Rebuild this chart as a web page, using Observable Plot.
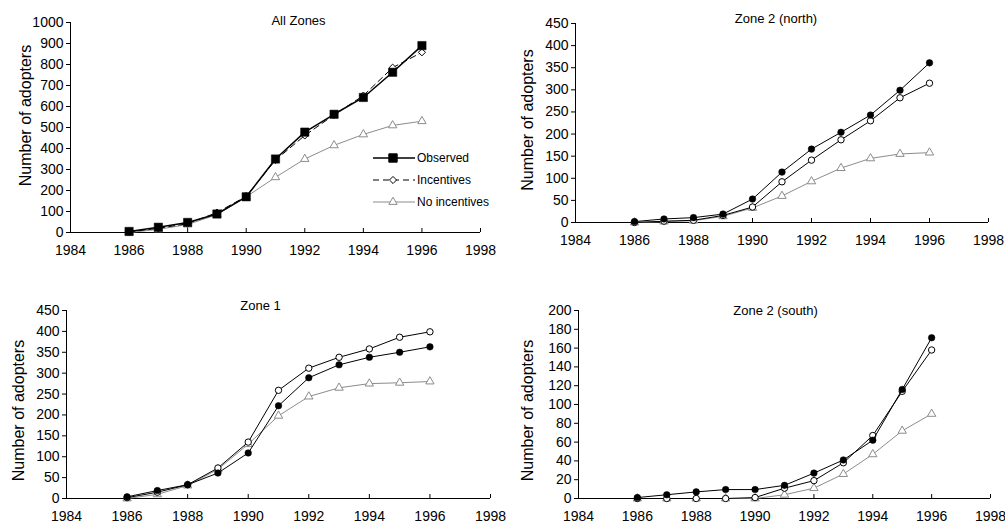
<!DOCTYPE html>
<html><head><meta charset="utf-8">
<script src="https://cdn.jsdelivr.net/npm/d3@7"></script>
<script src="https://cdn.jsdelivr.net/npm/@observablehq/plot@0.6"></script>
<style>
body{margin:0;background:#fff;}
#wrap{position:relative;width:1005px;height:524px;font-family:"Liberation Sans",Arial,sans-serif;overflow:hidden;}
.panel{position:absolute;}
.panel svg{overflow:visible;}
.legend{position:absolute;left:368px;top:147px;font-size:12px;color:#000;}
.legend div{height:22px;display:flex;align-items:center;}
.legend svg{margin-right:1px;}
</style></head><body><div id="wrap"></div>
<script>
const years = [1986,1987,1988,1989,1990,1991,1992,1993,1994,1995,1996];
const xTicks = [1984,1986,1988,1990,1992,1994,1996,1998];
const seriesNames = ["Observed","Incentives","No incentives"];
const yLabel = "Number of adopters";

const allObserved   = [5,25,48,88,170,350,478,563,643,763,890];
const allIncentives = [3,20,42,95,172,345,462,560,652,785,858];
const allNoIncent   = [0,15,38,85,170,263,350,415,467,510,530];

const northObserved   = [2,8,11,19,53,114,166,204,243,299,361];
const northIncentives = [0,3,5,16,35,92,141,187,230,282,315];
const northNoIncent   = [0,2,4,14,33,60,93,123,145,155,158];

const zone1Observed   = [4,19,33,61,109,222,289,320,338,350,363];
const zone1Incentives = [2,15,33,73,135,259,312,338,358,386,399];
const zone1NoIncent   = [0,10,31,70,130,198,244,265,275,277,280];

const southObserved   = [1,4,7,9.5,9.5,14,27,41,62,116,171];
const southIncentives = [0,0,0,0,1,11,19,38,67,114,158];
const southNoIncent   = [0,0,0,0,0,4,11,26,47,72,90];

const GRAY = "#8c8c8c";
const FONT = '"Liberation Sans", Arial, sans-serif';

const panels = [
  {title:"All Zones", obs:allObserved, inc:allIncentives, no:allNoIncent, yMax:1000, yStep:100,
   left:0, top:0, width:500, height:260, mt:22, mb:28, ml:70, mr:20,
   obsSym:"square", obsR:4.7, incSym:"diamond2", incR:3.2, dashed:true, obsW:1.5,
   tdx:23, tdy:-2, ldx:-45, ldy:-12},
  {title:"Zone 2 (north)", obs:northObserved, inc:northIncentives, no:northNoIncent, yMax:450, yStep:50,
   left:500, top:0, width:505, height:260, mt:23, mb:38, ml:75, mr:17,
   obsSym:"circle", obsR:3.3, incSym:"circle", incR:3.2, dashed:false, obsW:1,
   tdx:-6, tdy:-5, ldx:-48, ldy:-3},
  {title:"Zone 1", obs:zone1Observed, inc:zone1Incentives, no:zone1NoIncent, yMax:450, yStep:50,
   left:0, top:260, width:500, height:264, mt:50, mb:26, ml:66, mr:10,
   obsSym:"circle", obsR:3.3, incSym:"circle", incR:3.2, dashed:false, obsW:1,
   tdx:-18, tdy:-5, ldx:-48, ldy:6},
  {title:"Zone 2 (south)", obs:southObserved, inc:southIncentives, no:southNoIncent, yMax:200, yStep:20,
   left:500, top:260, width:505, height:264, mt:50, mb:26, ml:78, mr:15,
   obsSym:"circle", obsR:3.3, incSym:"circle", incR:3.2, dashed:false, obsW:1,
   tdx:-9, tdy:0, ldx:-51, ldy:6}
];

const wrap = document.getElementById("wrap");

for (const p of panels) {
  const rows = (arr) => years.map((year, i) => ({year, v: arr[i]}));
  const obs = rows(p.obs), inc = rows(p.inc), no = rows(p.no);
  const yTicks = d3.range(0, p.yMax + p.yStep / 2, p.yStep);
  const chart = Plot.plot({
    width: p.width, height: p.height,
    marginTop: p.mt, marginBottom: p.mb, marginLeft: p.ml, marginRight: p.mr,
    x: {domain: [xTicks[0], xTicks[xTicks.length - 1]], axis: null},
    y: {domain: [0, p.yMax], axis: null},
    style: {fontFamily: FONT, fontSize: "14px", color: "#000", background: "transparent", overflow: "visible"},
    marks: [
      Plot.ruleY([0], {stroke: "#000"}),
      Plot.ruleX([xTicks[0]], {stroke: "#000"}),
      Plot.axisY({ticks: yTicks, tickSize: 4, tickPadding: 3, tickFormat: d => String(d), label: null, fontSize: 14}),
      Plot.axisX({ticks: xTicks, tickSize: -4, tickPadding: 17, tickFormat: d => String(d), label: null, fontSize: 14}),
      Plot.line(no, {x: "year", y: "v", stroke: GRAY, strokeWidth: 1}),
      Plot.dot(no, {x: "year", y: "v", symbol: "triangle", r: 3.1, stroke: GRAY, fill: "white", strokeWidth: 1}),
      Plot.line(inc, {x: "year", y: "v", stroke: "#000", strokeWidth: 1, strokeDasharray: p.dashed ? "6,4" : null}),
      Plot.dot(inc, {x: "year", y: "v", symbol: p.incSym, r: p.incR, stroke: "#000", fill: "white", strokeWidth: 1}),
      Plot.line(obs, {x: "year", y: "v", stroke: "#000", strokeWidth: p.obsW}),
      Plot.dot(obs, {x: "year", y: "v", symbol: p.obsSym, r: p.obsR, fill: "#000", stroke: "#000", strokeWidth: 0.5}),
      Plot.text([p.title], {frameAnchor: "top", textAnchor: "middle", dx: p.tdx, dy: p.tdy, fontSize: 13, fill: "#000", lineAnchor: "middle"}),
      Plot.text([yLabel], {frameAnchor: "left", textAnchor: "middle", lineAnchor: "middle", rotate: -90, dx: p.ldx, dy: p.ldy, fontSize: 16, fill: "#000"})
    ]
  });
  const div = document.createElement("div");
  div.className = "panel";
  div.style.left = p.left + "px";
  div.style.top = p.top + "px";
  div.appendChild(chart);
  wrap.appendChild(div);
}

// Legend for the "All Zones" panel
const legendSpec = [
  {name: seriesNames[0], sym: d3.symbolSquare, size: 70, fill: "#000", stroke: "#000", dash: null, w: 1.5},
  {name: seriesNames[1], sym: d3.symbolDiamond2, size: 32, fill: "#fff", stroke: "#000", dash: "6,4", w: 1},
  {name: seriesNames[2], sym: d3.symbolTriangle, size: 30, fill: "#fff", stroke: GRAY, dash: null, w: 1}
];
const leg = document.createElement("div");
leg.className = "legend";
for (const s of legendSpec) {
  const row = document.createElement("div");
  const sw = d3.create("svg").attr("width", 48).attr("height", 22);
  sw.append("line").attr("x1", 5).attr("x2", 47).attr("y1", 11).attr("y2", 11)
    .attr("stroke", s.stroke).attr("stroke-width", s.w).attr("stroke-dasharray", s.dash);
  sw.append("path").attr("d", d3.symbol(s.sym, s.size)()).attr("transform", "translate(25,11)")
    .attr("fill", s.fill).attr("stroke", s.stroke);
  row.appendChild(sw.node());
  const t = document.createElement("span");
  t.textContent = s.name;
  row.appendChild(t);
  leg.appendChild(row);
}
wrap.appendChild(leg);
</script></body></html>
